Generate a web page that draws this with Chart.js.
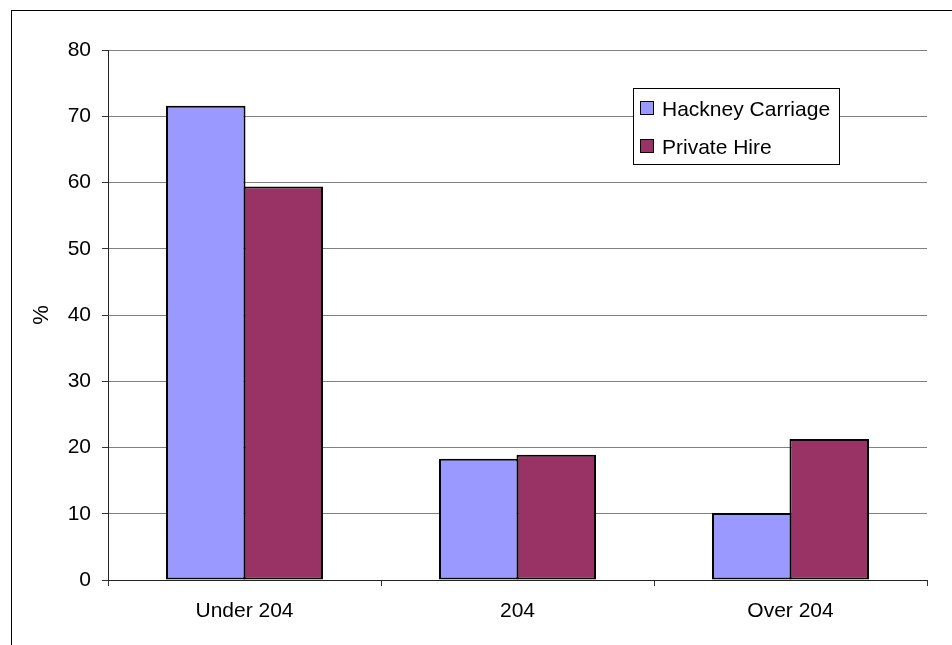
<!DOCTYPE html>
<html>
<head>
<meta charset="utf-8">
<script src="https://cdn.jsdelivr.net/npm/chart.js@4.4.1/dist/chart.umd.min.js"></script>
<style>
  body { margin:0; background:#fff; }
  #wrap { width:952px; height:645px; position:relative; }
</style>
</head>
<body>
<div id="wrap"><canvas id="chart"></canvas></div>
<script>

let categories = ["Under 204", "204", "Over 204"];

let hackneyValues = [71.6, 18.3, 10.1];

let privateHireValues = [59.4, 18.9, 21.3];

let seriesNames = ["Hackney Carriage", "Private Hire"];

let seriesColors = ["#9999FF", "#993366"];

let yTicks = [0, 10, 20, 30, 40, 50, 60, 70, 80];

let FONT = "'Liberation Sans', Arial, sans-serif";


/* outer frame, cut off at right and bottom like the original */
let framePlugin = {

   id: "frame",

   beforeDraw: function(chart){

      let ctx = chart.ctx;

      ctx.save();
      ctx.fillStyle = "#fff";
      ctx.fillRect(0, 0, chart.width, chart.height);

      ctx.strokeStyle = "#000";
      ctx.lineWidth = 1;
      ctx.strokeRect(11.5, 10.5, 2000, 2000);
      ctx.restore();

   }

};


/* boxed legend inside the plot */
let boxLegend = {

   id: "boxLegend",

   afterDraw: function(chart){

      let ctx = chart.ctx;
      let area = chart.chartArea;

      let boxX = area.right - 293.5;
      let boxY = area.top + 38.5;
      let boxW = 206;
      let boxH = 76;

      ctx.save();

      ctx.fillStyle = "#fff";
      ctx.fillRect(boxX, boxY, boxW, boxH);
      ctx.strokeStyle = "#000";
      ctx.lineWidth = 1;
      ctx.strokeRect(boxX, boxY, boxW, boxH);

      ctx.font = "21px " + FONT;
      ctx.textBaseline = "alphabetic";
      ctx.textAlign = "left";

      chart.data.datasets.forEach(function(ds, i){

         let cy = boxY + 19.5 + i * 38;

         ctx.fillStyle = ds.backgroundColor;
         ctx.fillRect(boxX + 7, cy - 6.5, 13, 13);
         ctx.strokeStyle = "#000";
         ctx.strokeRect(boxX + 7, cy - 6.5, 13, 13);

         ctx.fillStyle = "#000";
         ctx.fillText(ds.label, boxX + 28.5, cy + 7.5);

      });

      ctx.restore();

   }

};


let ctx = document.getElementById("chart").getContext("2d");

new Chart(ctx, {

   type: "bar",

   data: {

      labels: categories,

      datasets: [

         {
            label: seriesNames[0],
            data: hackneyValues,
            backgroundColor: seriesColors[0],
            borderColor: "#000",
            borderWidth: 2,
            borderSkipped: false
         },

         {
            label: seriesNames[1],
            data: privateHireValues,
            backgroundColor: seriesColors[1],
            borderColor: "#000",
            borderWidth: 2,
            borderSkipped: false
         }

      ]

   },

   options: {

      responsive: true,
      maintainAspectRatio: false,
      animation: false,

      layout: {
         padding: { left: 0, right: 25, top: 50, bottom: 0 }
      },

      datasets: {
         /* bars overlap by 2px so the shared edge is one border */
         bar: { categoryPercentage: 0.5678, barPercentage: 1.026 }
      },

      plugins: {
         legend: { display: false },
         tooltip: { enabled: false }
      },

      scales: {

         x: {

            offset: true,

            afterFit: function(scale){ scale.height = 65; },

            grid: {
               offset: true,
               drawOnChartArea: true,
               color: function(c){
                  return c.index === categories.length ? "#808080" : "rgba(0,0,0,0)";
               },
               tickColor: "#333",
               tickLength: 6
            },

            border: { color: "#222", width: 1 },

            ticks: {
               color: "#000",
               font: { family: FONT, size: 21 },
               padding: 13,
               maxRotation: 0
            }

         },

         y: {

            min: yTicks[0],
            max: yTicks[yTicks.length - 1],

            afterFit: function(scale){ scale.width = 108; },

            afterBuildTicks: function(scale){
               scale.ticks = yTicks.map(v => ({ value: v }));
            },

            grid: {
               color: "#808080",
               tickColor: "#333",
               tickLength: 6
            },

            border: { color: "#222", width: 1 },

            ticks: {
               color: "#000",
               font: { family: FONT, size: 21 },
               padding: 11
            },

            title: {
               display: true,
               text: "%",
               color: "#000",
               font: { family: FONT, size: 22 },
               padding: 29
            }

         }

      }

   },

   plugins: [framePlugin, boxLegend]

});

</script>
</body>
</html>
